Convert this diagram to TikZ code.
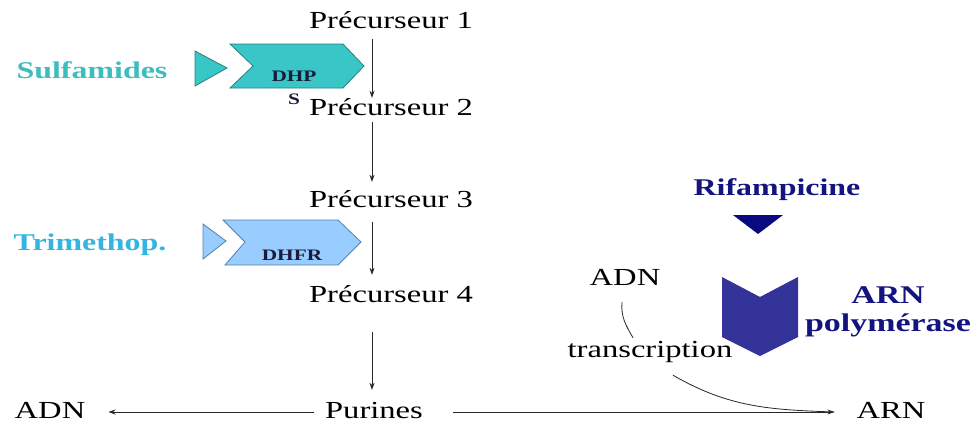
\documentclass[tikz,border=0pt]{standalone}
\usepackage{fontspec}
\setmainfont{Liberation Serif}[FakeStretch=1.33]
\usetikzlibrary{arrows.meta}
\definecolor{sulfa}{HTML}{3DBDBD}
\definecolor{sulfafill}{HTML}{38C6C6}
\definecolor{sulfaline}{HTML}{2A8080}
\definecolor{trim}{HTML}{33B5E0}
\definecolor{dhfrfill}{HTML}{99CCFF}
\definecolor{dhfrline}{HTML}{5580A8}
\definecolor{navytext}{HTML}{141480}
\definecolor{navytri}{HTML}{0A0A80}
\definecolor{chev}{HTML}{333399}
\definecolor{enz}{HTML}{1A1A3A}
\begin{document}
\begin{tikzpicture}[x=1pt,y=1pt,
  lbl/.style={inner sep=0pt, anchor=base, font=\fontsize{24.5}{27}\selectfont, text height=16pt, text depth=0pt},
  blbl/.style={inner sep=0pt, font=\fontsize{24}{27}\selectfont\bfseries},
  enzlbl/.style={inner sep=0pt, font=\fontsize{16}{23}\selectfont\bfseries, text=enz},
  arr/.style={-{Stealth[length=7pt,width=5pt]}, line width=0.8pt, draw=black!85},
  link/.style={line width=0.8pt, draw=black!85},
  sulfashape/.style={fill=sulfafill, draw=sulfaline, line width=0.8pt, line join=miter},
  dhfrshape/.style={fill=dhfrfill, draw=dhfrline, line width=0.8pt, line join=miter}]
\useasboundingbox (0,0) rectangle (978,-426);

% enzyme shapes
\draw[sulfashape] (195,-51) -- (227,-68) -- (195,-86) -- cycle;
\draw[sulfashape] (230,-44) -- (343,-44) -- (364,-66) -- (343,-88) -- (230,-88) -- (253,-66) -- cycle;
\draw[dhfrshape] (203,-224) -- (226,-241) -- (203,-259) -- cycle;
\draw[dhfrshape] (223,-220) -- (338,-220) -- (361,-242) -- (338,-265) -- (225,-265) -- (245,-242) -- cycle;
\fill[navytri] (733,-215) -- (783,-215) -- (758,-234) -- cycle;
\fill[chev] (722,-277) -- (760,-297) -- (798,-277) -- (798,-337) -- (760,-356) -- (722,-337) -- cycle;

% labels
\node[lbl] (p1) at (391,-28) {Précurseur 1};
\node[lbl] (p2) at (391,-115) {Précurseur 2};
\node[lbl] (p3) at (391,-207) {Précurseur 3};
\node[lbl] (p4) at (391,-302) {Précurseur 4};
\node[lbl] (pur) at (374,-418) {Purines};
\node[lbl] (adnl) at (50,-418) {ADN};
\node[lbl] (arn) at (891,-418) {ARN};
\node[lbl] (adnr) at (625,-285) {ADN};
\node[lbl] (tr) at (650,-357) {transcription};

\node[blbl, anchor=base, text=sulfa] (sulf) at (92,-78) {Sulfamides};
\node[blbl, anchor=base, text=trim] (trimeth) at (90,-250) {Trimethop.};
\node[blbl, anchor=base, text=navytext] (rif) at (777,-195) {Rifampicine};
\node[blbl, anchor=north, align=center, text=navytext, font=\fontsize{25.5}{28}\selectfont\bfseries] (pol) at (888,-286) {ARN\\polymérase};

\node[enzlbl, anchor=north, align=center] (dhps) at (294,-71) {DHP\\S};
\node[enzlbl, anchor=base] (dhfr) at (292,-260) {DHFR};

% connectors
\draw[arr] ([xshift=-19pt,yshift=-11pt]p1.south) -- ([xshift=-19pt,yshift=1pt]p2.north);
\draw[arr] ([xshift=-19pt,yshift=-7pt]p2.south) -- ([xshift=-19pt,yshift=9pt]p3.north);
\draw[arr] ([xshift=-19pt,yshift=-15pt]p3.south) -- ([xshift=-19pt,yshift=11pt]p4.north);
\draw[arr] ([xshift=-19pt,yshift=-30pt]p4.south) -- ([xshift=-2pt,yshift=12pt]pur.north);
\draw[arr] ([xshift=-11pt,yshift=-2pt]pur.west) -- ([xshift=23pt,yshift=-2pt]adnl.east);
\draw[arr] ([xshift=30pt,yshift=-2pt]pur.east) -- ([xshift=-22pt,yshift=-2pt]arn.west);
\draw[link] ([xshift=-3pt,yshift=-17pt]adnr.south) to[out=-95,in=120] ([xshift=-17pt,yshift=3pt]tr.north);
\draw[link] ([xshift=23pt,yshift=-18pt]tr.south) to[out=-30,in=178] ([xshift=-22pt,yshift=-2pt]arn.west);
\end{tikzpicture}
\end{document}
